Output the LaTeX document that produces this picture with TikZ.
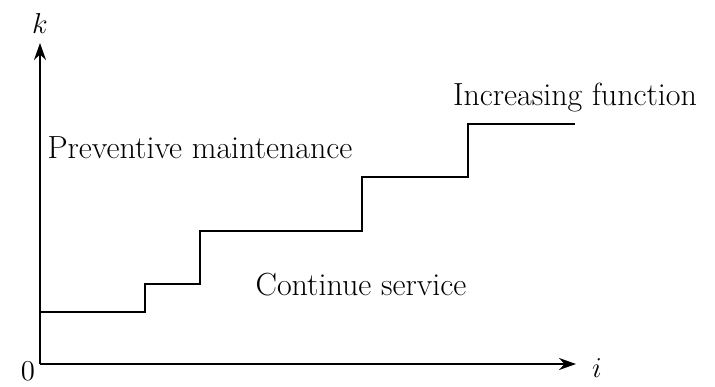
\documentclass[tikz,border=0pt]{standalone}
\usepackage{tikz}
\usetikzlibrary{arrows.meta, positioning}

\begin{document}
\begin{tikzpicture}[
  x=0.5pt, y=-0.5pt,
  axis/.style={-{Stealth[length=8.5pt, width=6pt]}, line width=1pt},
  stair/.style={line width=0.85pt},
  lbl/.style={font=\fontsize{16}{19}\selectfont, inner sep=0pt, anchor=base},
  var/.style={font=\fontsize{15}{18}\selectfont, inner sep=0pt, anchor=base}
]
  \useasboundingbox (0, 0) rectangle (715, 386);

  \coordinate (origin) at (40, 364);
  \coordinate (ktip) at (40, 43);
  \coordinate (itip) at (576, 364);

  \draw[axis] (origin) -- (ktip);
  \draw[axis] (origin) -- (itip);

  \node[var] (klabel) at (40, 33) {$k$};
  \node[var] (zero) at (28, 380) {$0$};
  \node[var] (ilabel) at (597, 377) {$i$};

  \draw[stair] (40, 312) -- (145, 312) -- (145, 284) -- (200, 284) -- (200, 231)
    -- (362, 231) -- (362, 177) -- (468, 177) -- (468, 124) -- (575, 124);

  \node[lbl] (pm) at (200, 158) {Preventive maintenance};
  \node[lbl] (cs) at (361, 295) {Continue service};
  \node[lbl] (inc) at (575, 105) {Increasing function};
\end{tikzpicture}
\end{document}
